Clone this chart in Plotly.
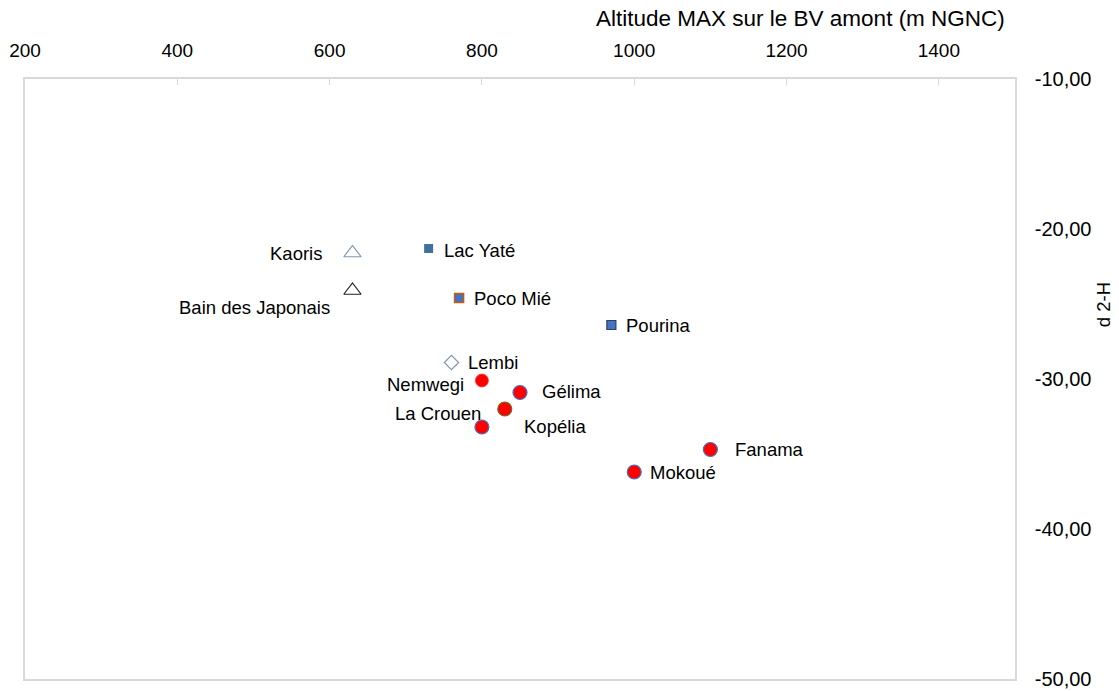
import plotly.graph_objects as go

# ---- data ----
sites = ["Kaoris", "Bain des Japonais", "Lac Yaté", "Poco Mié", "Pourina", "Lembi",
         "Nemwegi", "Gélima", "Kopélia", "La Crouen", "Fanama", "Mokoué"]
altitude = [630, 630, 730, 770, 970, 760, 800, 850, 830, 800, 1100, 1000]
d2h = [-21.6, -24.1, -21.3, -24.6, -26.4, -28.9, -30.1, -30.9, -32.0, -33.2, -34.7, -36.2]
x_ticks = [200, 400, 600, 800, 1000, 1200, 1400]
y_ticks = [-10, -20, -30, -40, -50]
y_tick_labels = [("%.2f" % v).replace(".", ",") for v in y_ticks]

# ---- styles (marker look per site) ----
style = {
    "Kaoris": dict(symbol="triangle-up-open", size=15, color="#8496b0", line=dict(width=1.2, color="#8496b0")),
    "Bain des Japonais": dict(symbol="triangle-up-open", size=15, color="#222222", line=dict(width=1.2, color="#222222")),
    "Lac Yaté": dict(symbol="square", size=9, color="#41719c", line=dict(width=0, color="#41719c")),
    "Poco Mié": dict(symbol="square", size=9, color="#4472c4", line=dict(width=1.5, color="#c55a11")),
    "Pourina": dict(symbol="square", size=9, color="#4472c4", line=dict(width=1.2, color="#2f3f5f")),
    "Lembi": dict(symbol="diamond-open", size=11, color="#8496b0", line=dict(width=1.2, color="#8496b0")),
    "Nemwegi": dict(symbol="circle", size=13, color="#ff0000", line=dict(width=0.8, color="#ff3030")),
    "Gélima": dict(symbol="circle", size=14, color="#ff0000", line=dict(width=1.2, color="#4472c4")),
    "Kopélia": dict(symbol="circle", size=14, color="#ff0000", line=dict(width=1.2, color="#6b6b2a")),
    "La Crouen": dict(symbol="circle", size=14, color="#ff0000", line=dict(width=1.2, color="#4472c4")),
    "Fanama": dict(symbol="circle", size=14, color="#ff0000", line=dict(width=1.2, color="#4472c4")),
    "Mokoué": dict(symbol="circle", size=14, color="#ff0000", line=dict(width=1.2, color="#4472c4")),
}
label_offset = {
    "Kaoris": (-56, 0), "Bain des Japonais": (-98, -17), "Lac Yaté": (51, -2),
    "Poco Mié": (53, 0), "Pourina": (47, 0), "Lembi": (42, 0), "Nemwegi": (-56, -4),
    "Gélima": (51, 1), "Kopélia": (50, -17), "La Crouen": (-44, 14),
    "Fanama": (59, 0), "Mokoué": (49, 0),
}

FONT = "Liberation Sans, Arial, sans-serif"
fig = go.Figure()
for name, xv, yv in zip(sites, altitude, d2h):
    fig.add_trace(go.Scatter(x=[xv], y=[yv], mode="markers", name=name,
                             marker=style[name], showlegend=False, hoverinfo="text", text=[name]))
    dx, dy = label_offset[name]
    fig.add_annotation(x=xv, y=yv, text=name, showarrow=False, xshift=dx, yshift=dy,
                       font=dict(family=FONT, size=18.5, color="#000000"))

fig.add_annotation(xref="paper", yref="paper", x=0.783, y=1.0, yshift=61, text="Altitude MAX sur le BV amont (m NGNC)",
                   showarrow=False, font=dict(family=FONT, size=22.5, color="#000000"), xanchor="center", yanchor="middle")
fig.add_annotation(xref="paper", yref="paper", x=1.0, xshift=88, y=0.623, text="d 2-H", textangle=-90,
                   showarrow=False, font=dict(family=FONT, size=18.5, color="#000000"), xanchor="center", yanchor="middle")

fig.update_layout(
    width=1119, height=691,
    margin=dict(l=25, r=104, t=79, b=12),
    paper_bgcolor="white", plot_bgcolor="white",
    font=dict(family=FONT, size=18, color="#000000"),
    xaxis=dict(side="top", range=[200, 1500], tickvals=x_ticks, showgrid=False, zeroline=False,
               showline=True, mirror=True, linecolor="#d9d9d9", linewidth=1.5, automargin=False,
               ticks="inside", ticklen=6, tickcolor="#d9d9d9", ticklabelstandoff=13,
               tickfont=dict(family=FONT, size=19, color="#000000")),
    yaxis=dict(side="right", range=[-50, -10], tickvals=y_ticks, ticktext=y_tick_labels, showgrid=False,
               zeroline=False, showline=True, mirror=True, linecolor="#d9d9d9", linewidth=1.5,
               ticks="", ticklabelstandoff=14, automargin=False,
               tickfont=dict(family=FONT, size=20, color="#000000")),
)

fig.write_html("out.html", config={"displayModeBar": False},
               post_script="document.body.style.margin='0';")
